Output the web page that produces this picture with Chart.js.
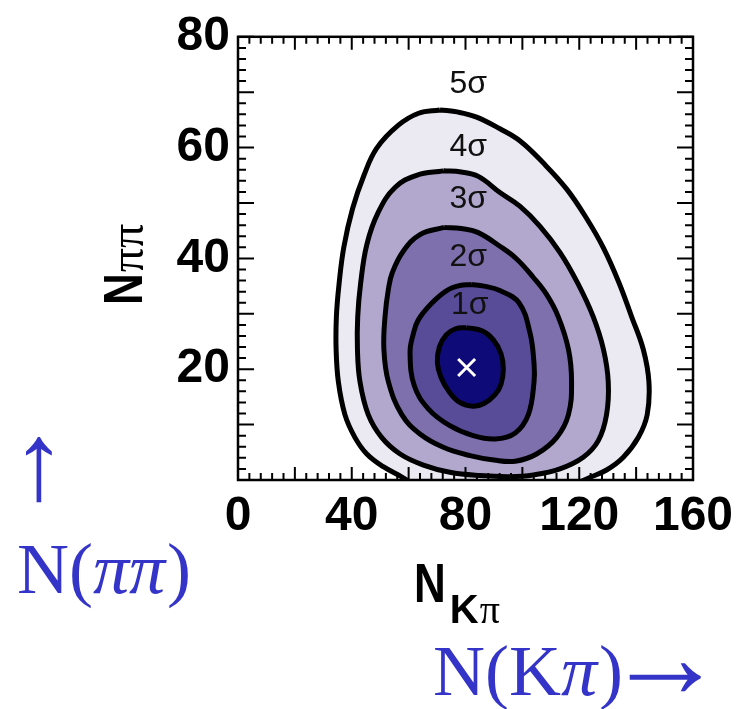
<!DOCTYPE html>
<html>
<head>
<meta charset="utf-8">
<script src="https://cdn.jsdelivr.net/npm/chart.js@4.4.1/dist/chart.umd.min.js"></script>
<style>
  html, body { margin: 0; padding: 0; background: #fff; }
  canvas { display: block; }
</style>
</head>
<body>
<canvas id="contourChart" width="744" height="709"></canvas>
<script>
// contour lines, points are [N(Kpi), N(pipi)]
const contour1 = [[80.4,27.5],[86,26.9],[89.8,25.3],[92.5,22.8],[93.3,20.0],[92.5,17.3],[90.4,15.4],[86.5,13.8],
  [82.7,13.3],[78,14.0],[74.3,15.9],[71.4,18.5],[70.1,21.2],[70.8,24.0],[73.2,26.2],[76.5,27.3],[80.4,27.5]];
const contour2 = [[82,35.3],[86.5,35.0],[92.1,34.2],[98.8,32.0],[102.7,26.5],[104.1,21.0],[104.1,17.7],[102.1,11.8],
  [97.5,8.5],[90.5,7.4],[82.7,8.0],[74.5,9.8],[67.0,12.8],[62.0,17.0],[60.5,23.0],[61.6,26.3],[63.4,28.9],
  [68.1,31.9],[73.4,34.2],[78,35.1],[82,35.3]];
const contour3 = [[72.5,45.6],[78.5,45.4],[84.3,44.7],[92.1,42.2],[98.0,39.9],[103.8,36.6],[108.5,33.5],[112.6,29.5],
  [116.2,23.6],[117.3,17.7],[116.2,11.8],[112.1,7.7],[105.0,4.7],[97.5,3.4],[90,3.6],[81.6,4.4],[72.2,5.9],
  [64.0,8.3],[57.6,11.8],[52.9,17.7],[51.3,23.6],[51.7,29.5],[52.9,34.5],[54.3,37.5],[58.1,41.3],[64.0,44.3],[72.5,45.6]];
const contour4 = [[72.2,55.8],[78.5,55.6],[84.5,54.8],[92.1,51.9],[99.2,49.4],[106.2,45.8],[113.2,41.1],[119.5,35.5],
  [124.9,29.5],[128.5,23.6],[130.2,17.7],[129.6,11.8],[126.7,7.1],[121.4,4.1],[113.2,2.0],[103.8,0.9],[95.6,0.6],
  [85.1,0.8],[74.5,1.4],[65.2,2.7],[57.0,4.7],[50.5,7.7],[45.8,11.8],[42.9,17.7],[42.0,23.6],[42.1,29.5],
  [43.1,35.4],[45.3,42.5],[49.3,48.3],[55.2,52.8],[62.8,55.0],[72.2,55.8]];
const contour5 = [[71.0,66.8],[77.5,66.4],[83.9,65.5],[92.1,63.4],[99.2,61.2],[107.4,57.2],[115.6,52.5],[122.6,47.2],
  [128.5,41.9],[133.9,35.7],[138.4,29.5],[142.5,23.6],[144.5,17.7],[143.9,11.8],[140.8,7.7],[135.5,4.1],
  [129.6,1.8],[122.6,0.2],[116,-1.6],[110,-4],[70,-4],[64,-1.6],[58.1,0.4],[51.1,2.4],[45.3,4.7],[41.1,7.7],
  [37.6,11.8],[35.3,17.7],[34.5,23.6],[34.6,29.5],[35.5,35.2],[37.2,42],[40.3,49],[44.3,55],[48.8,59.9],
  [56.3,64.0],[63.5,66.2],[71.0,66.8]];

const bestFit = [80.4, 20.3];
const sigmaNames = ['1σ', '2σ', '3σ', '4σ', '5σ'];
const sigmaLabelX = [81.5, 81, 81, 81, 81];
const sigmaLabelY = [31.6, 40.3, 50.7, 60.1, 71.4];
const xTicks = [0, 40, 80, 120, 160];
const yTicks = [20, 40, 60, 80];

const bandColors = ['#0e0a78', '#584c99', '#7e70ad', '#b2a8ce', '#ebeaf2'];
const blue = '#3434c8';
const serif = '"Liberation Serif", "Times New Roman", serif';
const sans = '"Liberation Sans", Arial, sans-serif';

const contours = [contour1, contour2, contour3, contour4, contour5];
const datasets = contours.map((c, i) => ({
  data: c.map(([x, y]) => ({x, y})),
  showLine: true,
  fill: 'shape',
  backgroundColor: bandColors[i],
  borderColor: '#000',
  borderWidth: 5,
  pointRadius: 0,
  tension: 0.4,
  clip: 0,
  order: i + 1
}));
datasets.unshift({
  data: [{x: bestFit[0], y: bestFit[1]}],
  showLine: false,
  pointStyle: 'crossRot',
  pointRadius: 12,
  borderColor: '#fff',
  backgroundColor: '#fff',
  borderWidth: 3,
  order: 0
});

// text sized so its ink has the given height (or width)
function fitFont(ctx, text, family, target, byWidth) {
  ctx.font = '100px ' + family;
  const m = ctx.measureText(text);
  const size = byWidth
    ? 100 * target / (m.actualBoundingBoxRight + m.actualBoundingBoxLeft)
    : 100 * target / (m.actualBoundingBoxAscent + m.actualBoundingBoxDescent);
  ctx.font = size + 'px ' + family;
  return ctx.measureText(text);
}

// frame with inward ticks (ROOT style), sigma labels, axis titles, blue notes
const decorations = {
  id: 'decorations',
  afterDatasetsDraw(chart) {
    const {ctx, chartArea: a, scales: {x, y}} = chart;
    ctx.save();
    ctx.fillStyle = '#111';
    ctx.font = '32px ' + sans;
    ctx.textAlign = 'center';
    ctx.textBaseline = 'middle';
    sigmaNames.forEach((t, i) => {
      ctx.fillText(t, x.getPixelForValue(sigmaLabelX[i]), y.getPixelForValue(sigmaLabelY[i]));
    });

    ctx.strokeStyle = '#000';
    ctx.lineWidth = 2;
    ctx.beginPath();
    for (let v = 0; v <= 160; v += 4) {
      const px = x.getPixelForValue(v);
      const len = v % 20 === 0 ? 13 : 7;
      ctx.moveTo(px, a.bottom); ctx.lineTo(px, a.bottom - len);
      ctx.moveTo(px, a.top); ctx.lineTo(px, a.top + len);
    }
    for (let v = 0; v <= 80; v += 2) {
      const py = y.getPixelForValue(v);
      const len = v % 10 === 0 ? 16 : 8;
      ctx.moveTo(a.left, py); ctx.lineTo(a.left + len, py);
      ctx.moveTo(a.right, py); ctx.lineTo(a.right - len, py);
    }
    ctx.stroke();
    ctx.lineWidth = 2.5;
    ctx.strokeRect(a.left, a.top, a.right - a.left, a.bottom - a.top);
    ctx.restore();
  },
  afterDraw(chart) {
    const {ctx} = chart;
    ctx.save();
    ctx.fillStyle = '#000';
    ctx.textBaseline = 'alphabetic';
    ctx.textAlign = 'left';

    // y title: N_pipi, rotated
    ctx.save();
    ctx.translate(142, 305);
    ctx.rotate(-Math.PI / 2);
    ctx.font = 'bold 55px ' + sans;
    ctx.save(); ctx.scale(0.8, 1); ctx.fillText('N', 0, 0); ctx.restore();
    const nw = ctx.measureText('N').width * 0.8;
    ctx.font = '48px ' + serif;
    ctx.fillText('ππ', nw + 1, 1);
    ctx.restore();

    // x title: N_Kpi
    ctx.font = 'bold 55px ' + sans;
    ctx.save(); ctx.translate(414, 602); ctx.scale(0.8, 1); ctx.fillText('N', 0, 0); ctx.restore();
    const nw2 = ctx.measureText('N').width * 0.8;
    ctx.font = 'bold 40px ' + sans;
    ctx.fillText('K', 414 + nw2 + 4, 623);
    const kw = ctx.measureText('K').width;
    ctx.font = '40px ' + serif;
    ctx.fillText('π', 414 + nw2 + 4 + kw + 1, 623);

    // blue notes
    ctx.fillStyle = blue;
    ctx.font = '72px ' + serif;
    ctx.fillText('N(', 17, 593);
    let px = 17 + ctx.measureText('N(').width;
    ctx.font = 'italic 72px ' + serif;
    ctx.fillText('ππ', px, 593);
    px += ctx.measureText('ππ').width + 2;
    ctx.font = '72px ' + serif;
    ctx.fillText(')', px, 593);

    ctx.fillText('N(K', 433, 695);
    px = 433 + ctx.measureText('N(K').width;
    ctx.font = 'italic 72px ' + serif;
    ctx.fillText('π', px, 695);
    px += ctx.measureText('π').width + 2;
    ctx.font = '72px ' + serif;
    ctx.fillText(')', px, 695);
    px += ctx.measureText(')').width + 6;

    let m = fitFont(ctx, '→', serif, 72, true);
    ctx.fillText('→', px + m.actualBoundingBoxLeft, 677 + (m.actualBoundingBoxAscent - m.actualBoundingBoxDescent) / 2);

    m = fitFont(ctx, '↑', serif, 66, false);
    const aw = m.actualBoundingBoxRight + m.actualBoundingBoxLeft;
    ctx.fillText('↑', 39 - aw / 2 + m.actualBoundingBoxLeft, 437 + m.actualBoundingBoxAscent);
    ctx.restore();
  }
};

new Chart(document.getElementById('contourChart'), {
  type: 'scatter',
  data: { datasets },
  plugins: [decorations],
  options: {
    responsive: false,
    animation: false,
    layout: { padding: { left: 0, top: 28, right: 51, bottom: 0 } },
    plugins: { legend: { display: false }, tooltip: { enabled: false } },
    scales: {
      x: {
        type: 'linear', min: 0, max: 160,
        grid: { display: false, drawTicks: false },
        border: { display: false },
        afterBuildTicks: s => { s.ticks = xTicks.map(v => ({value: v})); },
        ticks: {
          color: '#000', padding: 8, maxRotation: 0, autoSkip: false,
          font: { family: sans, weight: 'bold', size: 48 }
        },
        afterFit: s => { s.height = 229; }
      },
      y: {
        type: 'linear', min: 0, max: 80,
        grid: { display: false, drawTicks: false },
        border: { display: false },
        afterBuildTicks: s => { s.ticks = yTicks.map(v => ({value: v})); },
        ticks: {
          color: '#000', padding: 8, autoSkip: false,
          font: { family: sans, weight: 'bold', size: 48 }
        },
        afterFit: s => { s.width = 238; }
      }
    }
  }
});
</script>
</body>
</html>
